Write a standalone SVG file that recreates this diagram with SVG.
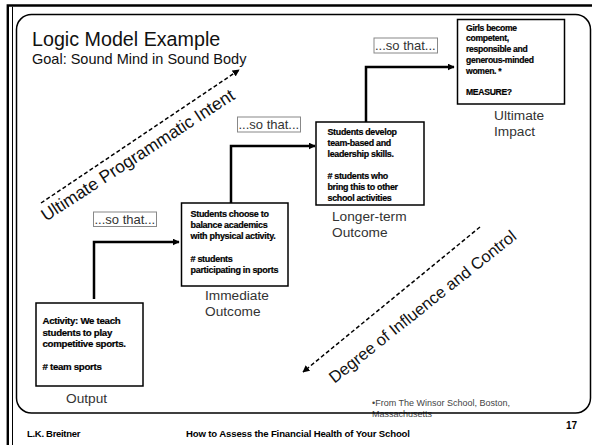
<svg xmlns="http://www.w3.org/2000/svg" width="592" height="445" viewBox="0 0 592 445">
  <defs>
    <!-- solid arrowhead for the step connectors -->
    <marker id="stepHead" viewBox="0 0 10 10" refX="9" refY="5" markerWidth="7" markerHeight="7" markerUnits="userSpaceOnUse" orient="auto">
      <path d="M0,0 L10,5 L0,10 z" fill="#000"/>
    </marker>
    <!-- arrowhead for the dashed trend lines -->
    <marker id="trendHead" viewBox="0 0 10 10" refX="9" refY="5" markerWidth="7" markerHeight="7" markerUnits="userSpaceOnUse" orient="auto">
      <path d="M0,0 L10,5 L0,10 z" fill="#000"/>
    </marker>
    <style>
      text { font-family: "Liberation Sans", Arial, Helvetica, sans-serif; }
      .frame { fill: none; stroke: #000; }
      .node rect { fill: #fff; stroke: #000; stroke-width: 1.5; }
      .body { font-weight: bold; fill: #000; stroke: #000; stroke-width: 0.2; letter-spacing: -0.3px; }
      .label { font-size: 13.7px; fill: #333; }
      .so rect { fill: #fff; stroke: #888; stroke-width: 1; }
      .so text { font-size: 13px; fill: #333; }
      .conn { fill: none; stroke: #000; stroke-width: 2.5; marker-end: url(#stepHead); }
      .trend { fill: none; stroke: #000; stroke-width: 1.5; stroke-dasharray: 4 2.5; marker-end: url(#trendHead); }
      .trendText { fill: #111; }
      .foot { font-weight: bold; fill: #000; }
    </style>
  </defs>

  <rect width="592" height="445" fill="#fff"/>

  <!-- page frame -->
  <path class="frame" d="M7.8,445 V5.5 H592" stroke-width="2.4"/>
  <line class="frame" x1="12.5" y1="6.7" x2="12.5" y2="445" stroke-width="1"/>

  <!-- source note (the panel border runs through its second line) -->
  <g id="source-note" font-size="9" fill="#444">
    <text x="372" y="406">•From The Winsor School, Boston,</text>
    <text x="372" y="416.5">Massachusetts</text>
  </g>

  <!-- content panel -->
  <rect class="frame" x="16.5" y="14.5" width="574" height="398.5" rx="15" stroke-width="1.5"/>

  <!-- heading -->
  <text x="32" y="45.5" font-size="19.7" fill="#111">Logic Model Example</text>
  <text x="32" y="63.5" font-size="14.5" fill="#111">Goal: Sound Mind in Sound Body</text>

  <!-- trend arrows -->
  <g id="trends">
    <line class="trend" x1="41" y1="203" x2="239" y2="70"/>
    <text class="trendText" font-size="17.5" text-anchor="middle" transform="translate(141,160) rotate(-33)">Ultimate Programmatic Intent</text>
    <line class="trend" x1="480" y1="227" x2="303" y2="372"/>
    <text class="trendText" font-size="16.5" text-anchor="middle" transform="translate(426,311) rotate(-38.5)">Degree of Influence and Control</text>
  </g>

  <!-- step connectors -->
  <g id="connectors">
    <path class="conn" d="M94,299 V242 H179"/>
    <path class="conn" d="M231,203 V146 H315"/>
    <path class="conn" d="M366,122 V67 H454"/>
  </g>

  <!-- "...so that..." tags -->
  <g id="so-that-1" class="so">
    <rect x="93.5" y="212" width="63" height="14.5"/>
    <text x="94.5" y="223.8">...so that...</text>
  </g>
  <g id="so-that-2" class="so">
    <rect x="237.5" y="117" width="63" height="15"/>
    <text x="238.5" y="129">...so that...</text>
  </g>
  <g id="so-that-3" class="so">
    <rect x="374" y="38" width="63.5" height="15"/>
    <text x="375" y="50">...so that...</text>
  </g>

  <!-- Output -->
  <g id="output" class="node">
    <rect x="36" y="303" width="107" height="83"/>
    <g class="body" font-size="9.7">
      <text x="42.5" y="324">Activity: We teach</text>
      <text x="42.5" y="335.5">students to play</text>
      <text x="42.5" y="347">competitive sports.</text>
      <text x="42.5" y="370"># team sports</text>
    </g>
    <text class="label" x="66" y="403">Output</text>
  </g>

  <!-- Immediate Outcome -->
  <g id="immediate-outcome" class="node">
    <rect x="181.5" y="203" width="106.5" height="83"/>
    <g class="body" font-size="9">
      <text x="190.5" y="217">Students choose to</text>
      <text x="190.5" y="228.2">balance academics</text>
      <text x="190.5" y="239.4">with physical activity.</text>
      <text x="190.5" y="261.8"># students</text>
      <text x="190.5" y="273">participating in sports</text>
    </g>
    <text class="label" x="205" y="300">Immediate</text>
    <text class="label" x="205" y="316">Outcome</text>
  </g>

  <!-- Longer-term Outcome -->
  <g id="longer-term-outcome" class="node">
    <rect x="316" y="122" width="108" height="83"/>
    <g class="body" font-size="8.9">
      <text x="327.5" y="135">Students develop</text>
      <text x="327.5" y="146">team-based and</text>
      <text x="327.5" y="157">leadership skills.</text>
      <text x="327.5" y="179"># students who</text>
      <text x="327.5" y="190">bring this to other</text>
      <text x="327.5" y="201">school activities</text>
    </g>
    <text class="label" x="332" y="220.5">Longer-term</text>
    <text class="label" x="332" y="237">Outcome</text>
  </g>

  <!-- Ultimate Impact -->
  <g id="ultimate-impact" class="node">
    <rect x="457.5" y="19.5" width="107" height="84.5"/>
    <g class="body" font-size="8.6">
      <text x="466" y="30.5">Girls become</text>
      <text x="466" y="41.3">competent,</text>
      <text x="466" y="52.1">responsible and</text>
      <text x="466" y="62.9">generous-minded</text>
      <text x="466" y="73.7">women. *</text>
      <text x="466" y="95.3">MEASURE?</text>
    </g>
    <text class="label" x="494" y="120">Ultimate</text>
    <text class="label" x="494" y="136">Impact</text>
  </g>

  <!-- footer -->
  <g id="footer" class="foot">
    <text x="27" y="436.5" font-size="9.5" letter-spacing="-0.3">L.K. Breitner</text>
    <text x="186" y="437" font-size="9.6" letter-spacing="-0.15">How to Assess the Financial Health of Your School</text>
    <text x="566" y="429" font-size="10">17</text>
  </g>
</svg>
